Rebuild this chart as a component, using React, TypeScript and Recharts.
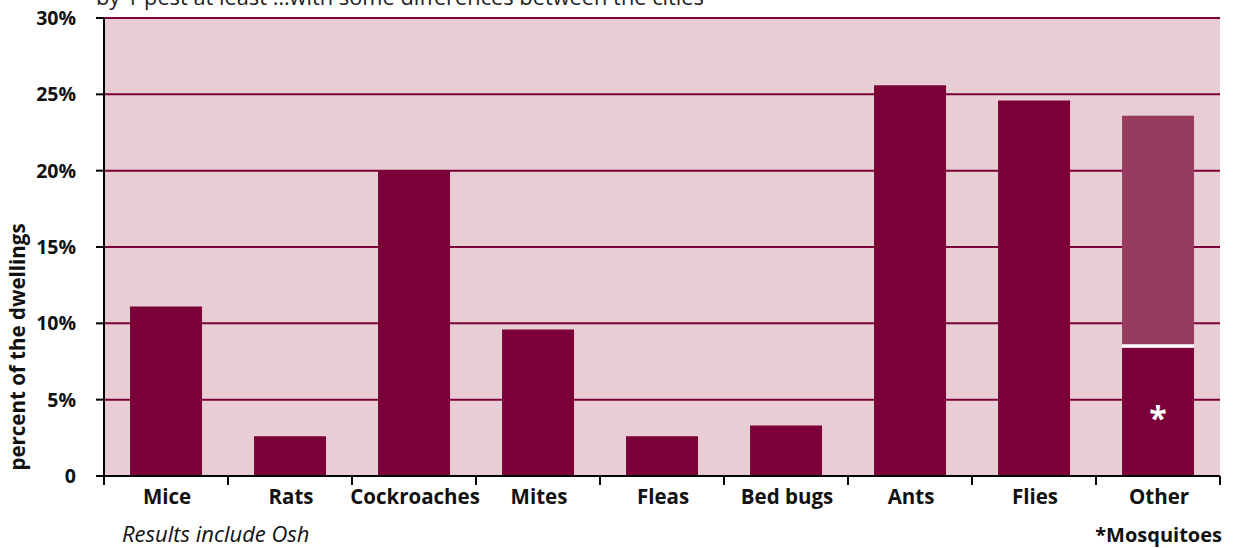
import React from "react";
import {
  BarChart,
  Bar,
  XAxis,
  YAxis,
  CartesianGrid,
  LabelList,
} from "recharts";

const categories = [
  "Mice",
  "Rats",
  "Cockroaches",
  "Mites",
  "Fleas",
  "Bed bugs",
  "Ants",
  "Flies",
  "Other",
];
// main share per pest (for "Other" this is the mosquitoes part)
const mainValues = [11.1, 2.6, 20.0, 9.6, 2.6, 3.3, 25.6, 24.6, 8.4];
// remaining "other" pests stacked above mosquitoes
const otherValues = [0, 0, 0, 0, 0, 0, 0, 0, 15.2];
const yTicks = [0, 5, 10, 15, 20, 25, 30];

const data = categories.map((name, i) => ({
  name,
  main: mainValues[i],
  other: otherValues[i],
}));

const FONT = "'Open Sans', sans-serif";
const DARK = "#7b0039";
const LIGHT = "#983c5f";
const BG = "#e8cdd4";

const W = 1240;
const H = 548;
const LEFT = 104;
const RIGHT = 20;
const BAND = (W - LEFT - RIGHT) / categories.length;

function XTick(props: any) {
  const { x, y, payload, index } = props;
  const last = index === categories.length - 1;
  return (
    <g>
      <line x1={x - BAND / 2} x2={x - BAND / 2} y1={y - 8} y2={y + 1} stroke="#000" strokeWidth={2} />
      {last && (
        <line x1={x + BAND / 2} x2={x + BAND / 2} y1={y - 8} y2={y + 1} stroke="#000" strokeWidth={2} />
      )}
      <text x={x + 1} y={y + 20} textAnchor="middle" fontFamily={FONT} fontWeight={700} fontSize={20.5} fill="#111">
        {payload.value}
      </text>
    </g>
  );
}

function YTick(props: any) {
  const { x, y, payload } = props;
  return (
    <text x={x - 18} y={y + 7} textAnchor="end" fontFamily={FONT} fontWeight={700} fontSize={19.5} fill="#111">
      {payload.value === 0 ? "0" : `${payload.value}%`}
    </text>
  );
}

function OtherShape(props: any) {
  const { x, y, width, height } = props;
  if (!height || height <= 0) return null;
  return (
    <g>
      <rect x={x} y={y} width={width} height={height} fill={LIGHT} />
      <rect x={x} y={y + height - 3.5} width={width} height={3.5} fill="#fff" />
    </g>
  );
}

function StarLabel(props: any) {
  const { x, y, width, height, index } = props;
  if (index !== categories.length - 1) return null;
  return (
    <text x={x + width / 2} y={y + height / 2 + 18} textAnchor="middle" fontFamily={FONT} fontWeight={700} fontSize={32} fill="#fff">
      *
    </text>
  );
}

export default function App() {
  return (
    <div style={{ position: "fixed", left: 0, top: 0, width: W, height: H, background: "#fff" }}>
      <svg width={W} height={H} style={{ position: "absolute", left: 0, top: 0, pointerEvents: "none" }}>
        <rect x={LEFT} y={18} width={W - LEFT - RIGHT} height={458} fill={BG} />
      </svg>
      <div style={{ position: "absolute", left: 0, top: 0 }}>
        <BarChart
          width={W}
          height={H}
          data={data}
          margin={{ top: 18, right: RIGHT, left: 0, bottom: 42 }}
          barCategoryGap="21%"
        >
          <CartesianGrid vertical={false} stroke={DARK} strokeWidth={2} />
          <XAxis
            dataKey="name"
            tickLine={false}
            axisLine={{ stroke: "#000", strokeWidth: 2 }}
            tick={<XTick />}
            interval={0}
            height={30}
          />
          <YAxis
            domain={[0, 30]}
            ticks={yTicks}
            width={LEFT}
            tickLine={{ stroke: "#000", strokeWidth: 2 }}
            tickSize={8}
            axisLine={{ stroke: "#000", strokeWidth: 2 }}
            tick={<YTick />}
            interval={0}
          />
          <Bar dataKey="main" stackId="a" fill={DARK} isAnimationActive={false}>
            <LabelList content={<StarLabel />} />
          </Bar>
          <Bar dataKey="other" stackId="a" fill={LIGHT} shape={<OtherShape />} isAnimationActive={false} />
        </BarChart>
      </div>
      <svg width={W} height={H} style={{ position: "absolute", left: 0, top: 0, pointerEvents: "none" }}>
        <text x={96} y={5} fontFamily={FONT} fontSize={21.8} fill="#222">
          by 1 pest at least …with some differences between the cities
        </text>
        <text
          transform="translate(25,347) rotate(-90)"
          textAnchor="middle"
          fontFamily={FONT}
          fontWeight={700}
          fontSize={20.5}
          fill="#111"
        >
          percent of the dwellings
        </text>
        <text x={122} y={542} fontFamily={FONT} fontStyle="italic" fontSize={22} fill="#111">
          Results include Osh
        </text>
        <text x={1222} y={542} textAnchor="end" fontFamily={FONT} fontWeight={700} fontSize={20} fill="#111">
          *Mosquitoes
        </text>
      </svg>
    </div>
  );
}
